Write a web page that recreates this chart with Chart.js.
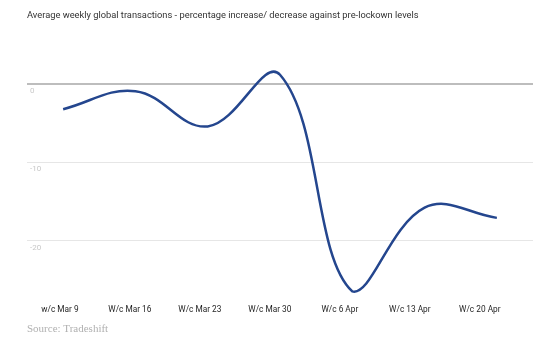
<!DOCTYPE html>
<html>
<head>
<meta charset="utf-8">
<script src="https://cdn.jsdelivr.net/npm/chart.js@4.4.1/dist/chart.umd.min.js"></script>
<style>
  html, body { margin: 0; padding: 0; background: #fff; }
  #wrap { width: 542px; height: 340px; }
</style>
</head>
<body>
<div id="wrap"><canvas id="chart" width="542" height="340"></canvas></div>
<script>
// Weekly transactions vs pre-lockdown levels (%)
const weekLabels = ['w/c Mar 9', 'W/c Mar 16', 'W/c Mar 23', 'W/c Mar 30', 'W/c 6 Apr', 'W/c 13 Apr', 'W/c 20 Apr'];
const changeValues = [-3.2, -0.9, -5.4, 1.2, -26.5, -15.8, -17.1];
const yTickValues = [0, -10, -20];

const lineColor = '#24468e';
const textColor = '#333';

Chart.defaults.font.family = "Roboto, 'Noto Sans', sans-serif";

new Chart(document.getElementById('chart').getContext('2d'), {
    type: 'line',
    data: {
        labels: weekLabels,
        datasets: [{
            data: changeValues,
            borderColor: lineColor,
            borderWidth: 2.5,
            tension: 0.4,
            pointRadius: 0,
            fill: false
        }]
    },
    options: {
        responsive: false,
        animation: false,
        layout: { padding: { left: 27, right: 9, top: 8, bottom: 2 } },
        plugins: {
            legend: { display: false },
            tooltip: { enabled: false },
            title: {
                display: true,
                text: 'Average weekly global transactions - percentage increase/ decrease against pre-lockown levels',
                align: 'start',
                color: textColor,
                font: { size: 9.3, weight: 'normal' },
                padding: { top: 2, bottom: 20 }
            },
            subtitle: {
                display: true,
                position: 'bottom',
                text: 'Source: Tradeshift',
                align: 'start',
                color: '#b0b0b0',
                font: { family: "'Liberation Serif', 'DejaVu Serif', serif", size: 11 },
                padding: { top: 0, bottom: 2 }
            }
        },
        scales: {
            x: {
                type: 'category',
                offset: true,
                display: false
            },
            xLabels: {
                type: 'linear',
                position: 'bottom',
                min: -0.47,
                max: 6.76,
                afterBuildTicks: (axis) => { axis.ticks = weekLabels.map((_, i) => ({ value: i })); },
                grid: { display: false, drawTicks: false },
                border: { display: false },
                ticks: {
                    autoSkip: false,
                    maxRotation: 0,
                    padding: 8,
                    color: '#1f1f1f',
                    font: { size: 8.3 },
                    callback: (v) => weekLabels[v]
                }
            },
            y: {
                min: -27.2,
                max: 5.5,
                afterFit: (axis) => { axis.width = 0; },
                afterBuildTicks: (axis) => { axis.ticks = yTickValues.map(v => ({ value: v })); },
                border: { display: false },
                grid: {
                    drawTicks: false,
                    color: (ctx) => ctx.tick && ctx.tick.value === 0 ? '#bdbdbd' : '#e6e6e6',
                    lineWidth: (ctx) => ctx.tick && ctx.tick.value === 0 ? 2 : 1
                },
                ticks: {
                    mirror: true,
                    padding: 3,
                    labelOffset: 7,
                    color: '#c8c8c8',
                    font: { size: 8 }
                }
            }
        }
    }
});
</script>
</body>
</html>
